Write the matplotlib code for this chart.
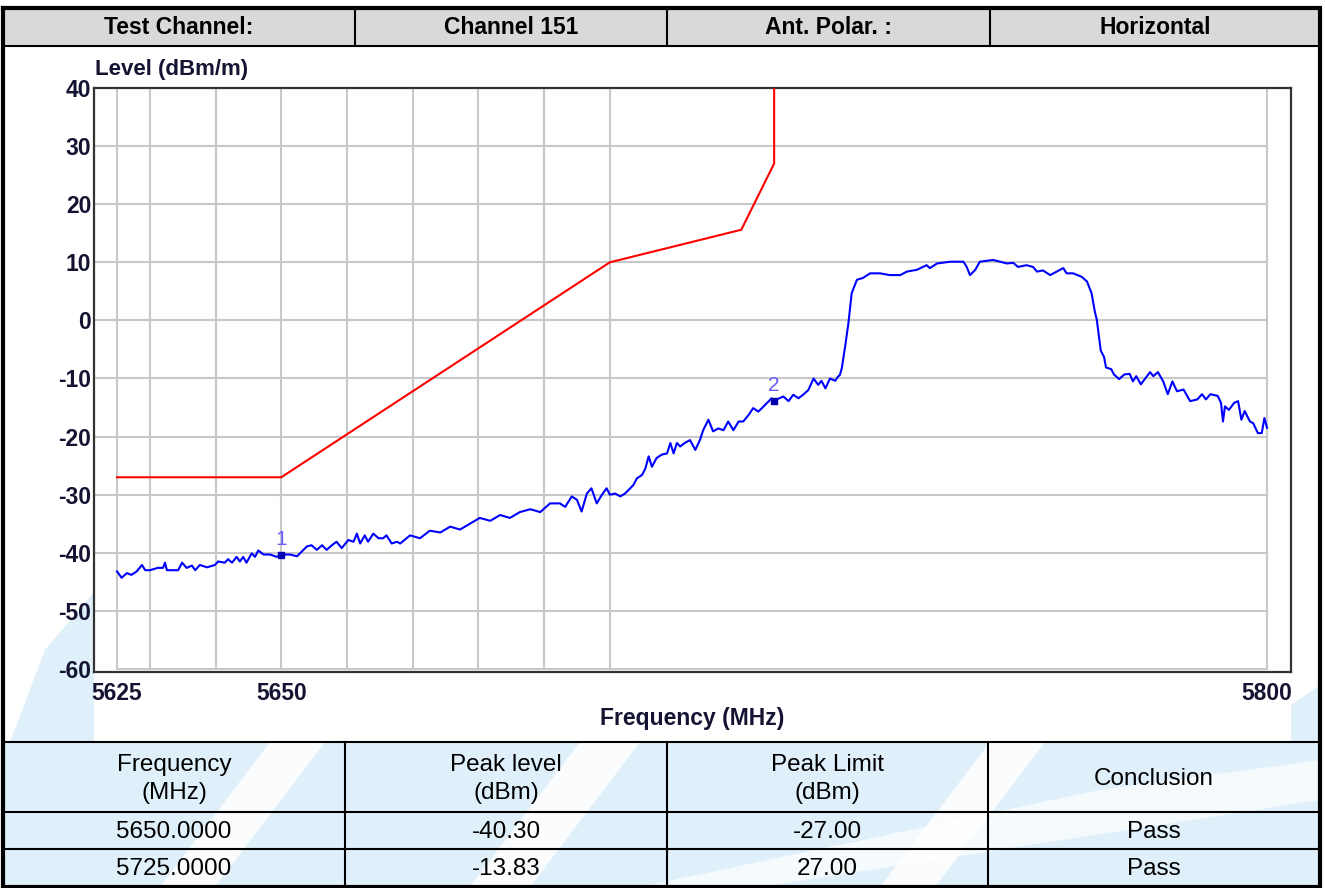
import matplotlib
matplotlib.use("Agg")
import matplotlib.pyplot as plt
from matplotlib.patches import Polygon, Rectangle

plt.rcParams['font.family'] = ['Liberation Sans', 'DejaVu Sans']
plt.rcParams['axes.unicode_minus'] = False

# header row
header_cells = ['Test Channel:', 'Channel 151', 'Ant. Polar. :', 'Horizontal']

# limit mask (MHz, dBm)
limit_freq = [5625, 5650, 5700, 5720, 5725, 5725]
limit_level = [-27, -27, 10, 15.6, 27, 40]

trace_freq = [
    5625.0, 5625.7, 5626.5, 5627.2, 5628.0, 5628.8, 5629.3, 5630.0, 5631.2, 5632.0,
    5632.3, 5632.6, 5634.3, 5634.9, 5635.6, 5636.4, 5636.9, 5637.6, 5638.7, 5639.9,
    5640.4, 5641.4, 5641.9, 5642.5, 5643.2, 5643.7, 5644.2, 5644.7, 5645.5, 5646.0,
    5646.5, 5647.3, 5648.3, 5649.3, 5650.0, 5651.3, 5652.4, 5653.1, 5653.9, 5654.6,
    5655.4, 5656.2, 5656.9, 5657.7, 5658.4, 5659.2, 5660.2, 5661.0, 5661.5, 5662.0,
    5662.7, 5663.2, 5664.0, 5664.8, 5665.5, 5666.0, 5666.8, 5667.6, 5668.1, 5669.6,
    5671.1, 5672.6, 5674.2, 5675.7, 5677.2, 5678.7, 5680.2, 5681.8, 5683.3, 5684.8,
    5686.3, 5687.9, 5689.4, 5690.9, 5692.4, 5693.2, 5694.2, 5695.0, 5695.7, 5696.5,
    5697.2, 5698.0, 5698.8, 5699.5, 5700.0, 5700.8, 5701.6, 5702.3, 5703.1, 5703.6,
    5704.1, 5704.9, 5705.4, 5705.9, 5706.4, 5707.1, 5707.9, 5708.7, 5709.2, 5709.7,
    5710.2, 5710.7, 5711.4, 5712.2, 5713.0, 5713.7, 5714.2, 5715.0, 5715.7, 5716.5,
    5717.3, 5718.0, 5718.8, 5719.6, 5720.3, 5721.1, 5721.8, 5722.6, 5723.4, 5724.1,
    5724.6, 5725.0, 5726.4, 5727.2, 5727.9, 5728.7, 5729.4, 5730.2, 5731.0, 5731.7,
    5732.2, 5732.8, 5733.5, 5734.3, 5734.7, 5735.0, 5735.3, 5735.8, 5736.3, 5736.8,
    5737.6, 5738.5, 5739.6, 5741.1, 5742.6, 5744.2, 5745.2, 5746.7, 5748.2, 5748.7,
    5749.8, 5751.8, 5753.8, 5754.3, 5754.8, 5755.6, 5756.3, 5758.3, 5759.4, 5760.4,
    5761.4, 5762.1, 5763.4, 5764.4, 5765.0, 5765.9, 5767.0, 5768.0, 5769.0, 5769.5,
    5770.5, 5771.8, 5772.6, 5773.3, 5773.8, 5774.1, 5774.4, 5774.7, 5775.2, 5775.5,
    5776.3, 5776.7, 5777.5, 5778.3, 5779.1, 5779.6, 5780.1, 5780.8, 5781.6, 5782.2,
    5782.7, 5783.4, 5784.2, 5784.9, 5785.6, 5786.3, 5787.3, 5788.3, 5789.4, 5790.1,
    5790.7, 5791.4, 5792.5, 5793.0, 5793.3, 5793.6, 5794.2, 5795.0, 5795.6, 5796.1,
    5796.6, 5797.4, 5797.9, 5798.6, 5799.2, 5799.6, 5800.0,
]
trace_level = [
    -43.2, -44.3, -43.5, -43.8, -43.2, -42.1, -43.0, -43.0, -42.6, -42.6,
    -41.7, -43.0, -43.0, -41.7, -42.6, -42.2, -43.0, -42.1, -42.5, -42.1,
    -41.5, -41.7, -41.1, -41.7, -40.7, -41.5, -40.7, -41.7, -40.1, -40.7,
    -39.6, -40.3, -40.3, -40.7, -40.3, -40.3, -40.6, -39.8, -38.9, -38.7,
    -39.5, -38.7, -39.5, -38.7, -38.1, -39.2, -37.8, -38.1, -36.7, -38.4,
    -37.0, -38.1, -36.7, -37.5, -37.5, -37.0, -38.4, -38.1, -38.4, -37.0,
    -37.5, -36.2, -36.5, -35.5, -36.0, -35.0, -34.0, -34.5, -33.5, -34.0,
    -33.0, -32.5, -33.0, -31.5, -31.5, -32.1, -30.3, -30.9, -32.9, -29.8,
    -28.9, -31.5, -30.0, -28.9, -30.0, -29.8, -30.3, -29.8, -28.9, -28.3,
    -27.2, -26.6, -25.5, -23.4, -25.2, -23.7, -23.1, -22.9, -21.1, -22.9,
    -21.1, -21.7, -21.1, -20.6, -22.3, -20.6, -18.9, -17.1, -19.1, -18.6,
    -18.9, -17.4, -18.9, -17.4, -17.4, -16.3, -15.1, -15.7, -14.8, -14.0,
    -13.4, -13.8, -13.1, -13.9, -12.8, -13.4, -12.8, -12.0, -10.0, -11.1,
    -10.4, -11.7, -10.0, -10.4, -9.7, -9.4, -8.2, -4.5, -0.5, 4.7,
    7.0, 7.3, 8.1, 8.1, 7.8, 7.8, 8.4, 8.7, 9.5, 9.0,
    9.8, 10.1, 10.1, 9.2, 7.8, 8.7, 10.1, 10.4, 10.1, 9.8,
    9.9, 9.2, 9.5, 9.2, 8.4, 8.6, 7.8, 8.4, 9.0, 8.1,
    8.1, 7.5, 6.7, 4.7, 1.5, 0.1, -2.5, -5.2, -6.3, -8.1,
    -8.4, -9.3, -10.1, -9.3, -9.2, -10.5, -9.6, -11.0, -9.8, -8.9,
    -9.6, -8.9, -10.5, -12.7, -10.5, -12.2, -11.9, -13.9, -13.6, -12.7,
    -13.6, -12.7, -13.0, -14.2, -17.4, -14.8, -15.4, -14.2, -13.9, -17.1,
    -15.6, -17.4, -17.7, -19.4, -19.4, -16.8, -18.5,
]

# markers
marker_freq = [5650.0, 5725.0]
marker_level = [-40.30, -13.83]
marker_names = ['1', '2']

# result table
table_header = ['Frequency\n(MHz)', 'Peak level\n(dBm)', 'Peak Limit\n(dBm)', 'Conclusion']
table_rows = [
    ['5650.0000', '-40.30', '-27.00', 'Pass'],
    ['5725.0000', '-13.83', '27.00', 'Pass'],
]

x_ticks = [5625, 5650, 5800]
x_grid = [5625, 5630, 5640, 5650, 5660, 5670, 5680, 5690, 5700, 5800]
y_ticks = list(range(-60, 41, 10))

W, H = 1325, 888
fig = plt.figure(figsize=(W / 100, H / 100), dpi=100)

# background layer in pixel coordinates
bg = fig.add_axes([0, 0, 1, 1])
bg.set_xlim(0, W)
bg.set_ylim(H, 0)
bg.axis('off')

wm = '#dff0fb'
# watermark swooshes
bg.add_patch(Polygon([(10, 742), (45, 650), (94, 592), (94, 742)], closed=True, color=wm, lw=0))
bg.add_patch(Polygon([(1291, 705), (1320, 685), (1320, 742), (1291, 742)], closed=True, color=wm, lw=0))
bg.add_patch(Rectangle((3, 742), 1317, 145, color=wm, lw=0))
for x0, w in [(160, 55), (470, 60), (880, 55)]:
    bg.add_patch(Polygon([(x0, 887), (x0 + w, 887), (x0 + w + 110, 742), (x0 + 110, 742)],
                         closed=True, color='white', alpha=0.85, lw=0))
bg.add_patch(Polygon([(640, 887), (760, 887), (1320, 800), (1320, 760), (1100, 790)],
                     closed=True, color='white', alpha=0.7, lw=0))

# header row
bg.add_patch(Rectangle((3, 8), 1317, 38, color='#d9d9d9', lw=0))
head_x = [3, 355, 667, 990, 1320]
for i, t in enumerate(header_cells):
    bg.text((head_x[i] + head_x[i + 1]) / 2, 28, t, ha='center', va='center',
            fontsize=16.5, fontweight='bold', color='black')
for x in head_x[1:-1]:
    bg.plot([x, x], [8, 46], color='black', lw=1.5)
bg.plot([3, 1320], [46, 46], color='black', lw=1.5)

# result table
tab_x = [3, 345, 667, 988, 1320]
row_y = [742, 812, 849, 887]
for i, t in enumerate(table_header):
    bg.text((tab_x[i] + tab_x[i + 1]) / 2, 779, t, ha='center', va='center',
            fontsize=17.5, color='black', linespacing=1.3)
for r, row in enumerate(table_rows):
    yc = (row_y[r + 1] + row_y[r + 2]) / 2
    for i, t in enumerate(row):
        bg.text((tab_x[i] + tab_x[i + 1]) / 2, yc + 1, t, ha='center', va='center',
                fontsize=17.5, color='black')
for x in tab_x[1:-1]:
    bg.plot([x, x], [742, 887], color='black', lw=1.5)
for y in row_y:
    bg.plot([3, 1320], [y, y], color='black', lw=1.5)

# outer border
bg.plot([3, 3, 1320, 1320, 3], [8, 887, 887, 8, 8], color='black', lw=3, solid_joinstyle='miter')

# chart
ax = fig.add_axes([94 / W, (H - 672) / H, (1291 - 94) / W, (672 - 88) / H])
ax.set_zorder(2)
ax.set_facecolor('white')
ax.set_xlim(5621.5, 5803.65)
ax.set_ylim(-60.52, 40)

gc = '#c8c8c8'
for y in y_ticks[1:-1]:
    ax.plot([5621.5, 5800], [y, y], color=gc, lw=1.5, zorder=1)
ax.plot([5625, 5800], [-60, -60], color=gc, lw=1.5, zorder=1)
for x in x_grid:
    ax.plot([x, x], [-60, 40], color=gc, lw=1.5, zorder=1)

ax.plot(limit_freq, limit_level, color='#ff0000', lw=1.5, zorder=3)
ax.plot(trace_freq, trace_level, color='#0000ff', lw=1.5, zorder=4)
ax.plot(marker_freq, marker_level, 's', color='#0000b0', ms=4.5, zorder=5)
for f, l, n in zip(marker_freq, marker_level, marker_names):
    ax.annotate(n, (f, l), xytext=(0, 4), textcoords='offset points', ha='center',
                va='bottom', fontsize=15, color='#6a5cff', zorder=6)

for s in ax.spines.values():
    s.set_color('#333333')
    s.set_linewidth(1.6)

ax.set_xticks(x_ticks)
ax.set_yticks(y_ticks)
ax.tick_params(length=0, labelsize=16.5, labelcolor='#141432')
ax.tick_params(axis='y', pad=2)
ax.tick_params(axis='x', pad=7)
for lab in ax.get_xticklabels() + ax.get_yticklabels():
    lab.set_fontweight('bold')

ax.set_xlabel('Frequency (MHz)', fontsize=16.5, fontweight='bold', color='#141432')
ax.xaxis.set_label_coords((692 - 94) / (1291 - 94), -(707 - 672) / (672 - 88))
fig.text(95 / W, 1 - 70 / H, 'Level (dBm/m)', ha='left', va='center', fontsize=16,
         fontweight='bold', color='#141432')

fig.savefig('out.png', dpi=100)
